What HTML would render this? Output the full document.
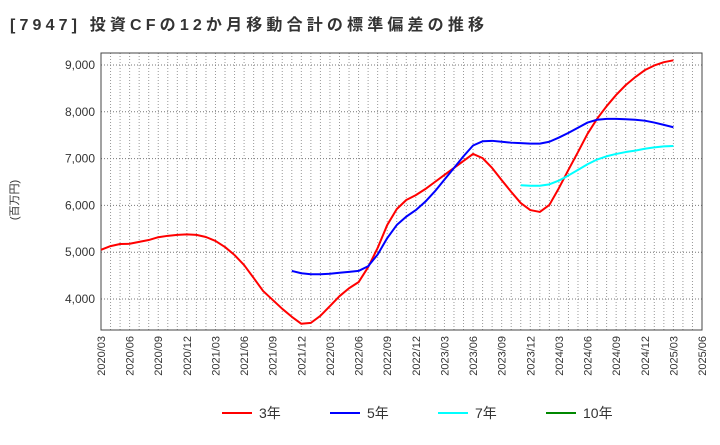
<!DOCTYPE html>
<html><head><meta charset="utf-8"><style>
body{margin:0;background:#fff;font-family:"Liberation Sans","Noto Sans CJK JP",sans-serif;}
</style></head><body>
<svg width="720" height="440" xmlns="http://www.w3.org/2000/svg" font-family="Liberation Sans, Noto Sans CJK JP, sans-serif">
<text x="10" y="30" font-size="16" font-weight="bold" fill="#333" textLength="474" lengthAdjust="spacing">[7947]  投資CFの12か月移動合計の標準偏差の推移</text>
<text transform="translate(18,200) rotate(-90)" text-anchor="middle" font-size="11" fill="#333">(百万円)</text>
<g id="grid"></g><g id="axes"></g><g id="series"></g>
<g font-size="14" fill="#333">
<g><line x1="222" y1="413" x2="252" y2="413" stroke="#f00" stroke-width="2"/><text x="259" y="418">3年</text></g>
<g><line x1="330" y1="413" x2="360" y2="413" stroke="#00f" stroke-width="2"/><text x="367" y="418">5年</text></g>
<g><line x1="438" y1="413" x2="468" y2="413" stroke="#0ff" stroke-width="2"/><text x="475" y="418">7年</text></g>
<g><line x1="546" y1="413" x2="576" y2="413" stroke="#080" stroke-width="2"/><text x="583" y="418">10年</text></g>
</g>
</svg>
<script>
const yTicks=[4000,5000,6000,7000,8000,9000];
const s3=[5050,5130,5175,5180,5220,5260,5320,5350,5370,5380,5370,5325,5240,5110,4940,4725,4450,4170,3980,3790,3620,3470,3490,3640,3850,4060,4230,4360,4680,5090,5580,5920,6115,6220,6350,6500,6650,6800,6950,7100,7010,6800,6540,6290,6050,5900,5860,6010,6370,6760,7140,7530,7850,8120,8360,8570,8740,8890,8990,9060,9100];
const s5=[4600,4550,4530,4530,4540,4560,4580,4600,4700,4950,5300,5580,5760,5900,6080,6300,6550,6800,7050,7280,7370,7380,7360,7340,7330,7320,7320,7360,7450,7550,7660,7770,7830,7850,7850,7840,7830,7810,7770,7720,7670];
const s5Start=20;
const s7=[6430,6420,6420,6450,6530,6640,6760,6880,6980,7050,7100,7140,7170,7210,7240,7260,7270];
const s7Start=44;
const L=101,R=702,T=53,B=330,N=63;
const X=i=>L+i*(R-L)/N;
const Y=v=>65+(9000-v)*46.8/1000;
const NS='http://www.w3.org/2000/svg';
function mk(t,a,p){const e=document.createElementNS(NS,t);for(const k in a)e.setAttribute(k,a[k]);p.appendChild(e);return e;}
const g=document.getElementById('grid'),ax=document.getElementById('axes'),se=document.getElementById('series');
for(let i=1;i<N;i++){const l=mk('line',{x1:X(i),x2:X(i),y1:T,y2:B,stroke:'#999','stroke-dasharray':'1,2','stroke-width':1},g);

}
yTicks.forEach(v=>{const l=mk('line',{x1:L,x2:R,y1:Y(v),y2:Y(v),stroke:'#777','stroke-dasharray':'1,2'},g);


const t=mk('text',{x:L-6,y:Y(v)+4,'text-anchor':'end','font-size':12,fill:'#333'},ax);t.textContent=v.toLocaleString('en-US');

});
const f=mk('rect',{x:L,y:T,width:R-L,height:B-T,fill:'none',stroke:'#444','stroke-width':1},ax);


for(let i=0;i<=N;i+=3){const m=3+i,yr=2020+Math.floor((m-1)/12),mo=((m-1)%12)+1;
const lab=yr+'/'+String(mo).padStart(2,'0');
const t=mk('text',{transform:`translate(${X(i)+4},${B+6}) rotate(-90)`,'text-anchor':'end','font-size':11,fill:'#333'},ax);t.textContent=lab;

}
function line(arr,st,col,name){const p=mk('polyline',{points:arr.map((v,i)=>X(i+st)+','+Y(v)).join(' '),fill:'none',stroke:col,'stroke-width':2,'stroke-linejoin':'round'},se);

}
line(s3,0,'#f00','series-3y');
line(s5,s5Start,'#00f','series-5y');
line(s7,s7Start,'#0ff','series-7y');
</script>
</body></html>
